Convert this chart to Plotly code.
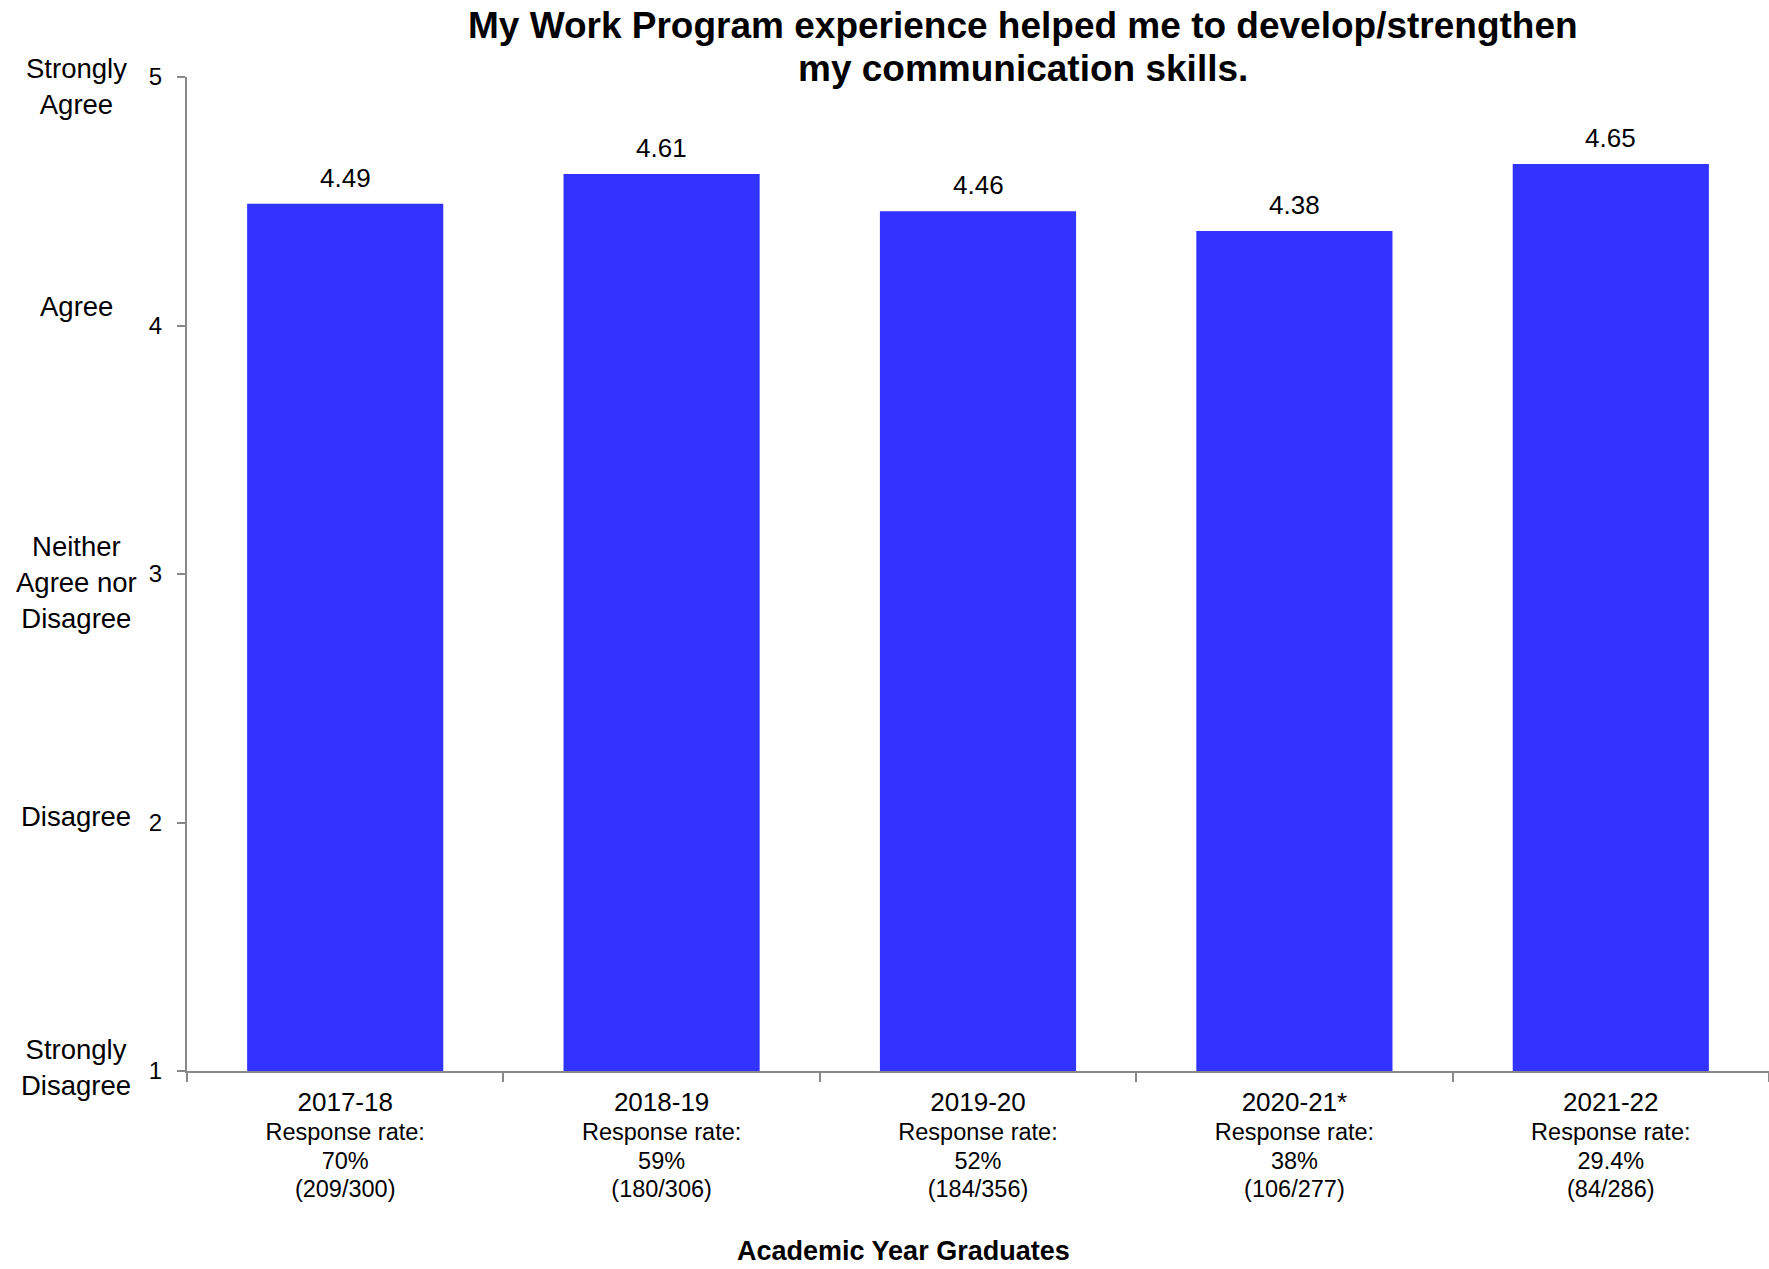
import plotly.graph_objects as go

years = ["2017-18", "2018-19", "2019-20", "2020-21*", "2021-22"]
rates = ["70%", "59%", "52%", "38%", "29.4%"]
counts = ["(209/300)", "(180/306)", "(184/356)", "(106/277)", "(84/286)"]
scores = [4.49, 4.61, 4.46, 4.38, 4.65]

scale_vals = [5, 4, 3, 2, 1]
scale_names = ["Strongly<br>Agree", "Agree", "Neither<br>Agree nor<br>Disagree", "Disagree", "Strongly<br>Disagree"]
scale_shift = [-9, 19, -8, 6, 4]

title_lines = ["My Work Program experience helped me to develop/strengthen", "my communication skills."]
xaxis_title = "Academic Year Graduates"

FONT = "Liberation Sans, Arial, sans-serif"
W, H = 1769, 1269
# pixel geometry of the plot area
px_left, px_top, px_bottom = 187, 77, 1071
L, T, R = px_left, px_top, 0
B = H - px_bottom
pw = W - L - R
ph = H - T - B


def paper_x(page_x):
    return (page_x - px_left) / pw


def paper_y(page_y):
    return (px_bottom - page_y) / ph


def span(t, size):
    return f"<span style='font-size:{size}px'>{t}</span>"


ticktext = [
    "<br>".join([span(y, 26), span("Response rate:", 23.5), span(r, 23.5), span(c, 23.5)])
    for y, r, c in zip(years, rates, counts)
]

fig = go.Figure()
fig.add_trace(go.Bar(
    x=years, y=scores,
    marker=dict(color="#3333FF", line=dict(width=0)),
    hoverinfo="x+y",
))

for yr, s in zip(years, scores):
    fig.add_annotation(x=yr, y=s, xref="x", yref="y", text=f"{s:.2f}",
                       showarrow=False, yanchor="middle", yshift=26,
                       font=dict(family=FONT, size=26, color="#000"))

for v, name, sh in zip(scale_vals, scale_names, scale_shift):
    fig.add_annotation(x=paper_x(76), y=v, xref="paper", yref="y", text=name,
                       showarrow=False, xanchor="center", yanchor="middle", yshift=sh,
                       align="center", font=dict(family=FONT, size=27.5, color="#000"))

for line, py in zip(title_lines, [25, 69]):
    fig.add_annotation(x=paper_x(1023), y=paper_y(py), xref="paper", yref="paper",
                       text=f"<b>{line}</b>", showarrow=False, xanchor="center", yanchor="middle",
                       font=dict(family=FONT, size=37, color="#000"))

fig.add_annotation(x=paper_x(903), y=paper_y(1251), xref="paper", yref="paper",
                   text=f"<b>{xaxis_title}</b>", showarrow=False, xanchor="center", yanchor="middle",
                   font=dict(family=FONT, size=27, color="#000"))

fig.update_layout(
    width=W, height=H,
    margin=dict(l=L, r=R, t=T, b=B, pad=0),
    paper_bgcolor="white", plot_bgcolor="white",
    bargap=0.38,
    showlegend=False,
    font=dict(family=FONT, color="#000"),
    xaxis=dict(
        type="category", tickmode="array", tickvals=years, ticktext=ticktext,
        tickson="boundaries", ticks="outside", ticklen=9, tickcolor="#898989", tickwidth=2,
        showline=True, linecolor="#898989", linewidth=2,
        showgrid=False, zeroline=False,
        tickfont=dict(family=FONT, size=22, color="#000"),
        tickangle=0, ticklabelstandoff=12,
    ),
    yaxis=dict(
        range=[1, 5], tickmode="array", tickvals=[1, 2, 3, 4, 5],
        ticktext=["1", "2", "3", "4", "5"],
        ticks="outside", ticklen=8, tickcolor="#898989", tickwidth=2,
        showline=True, linecolor="#898989", linewidth=2,
        showgrid=False, zeroline=False,
        tickfont=dict(family=FONT, size=24, color="#000"),
        ticklabelstandoff=10,
    ),
)

fig.write_html(
    "out.html",
    config={"displayModeBar": False},
    post_script="document.body.style.margin='0';document.body.style.overflow='hidden';",
)
